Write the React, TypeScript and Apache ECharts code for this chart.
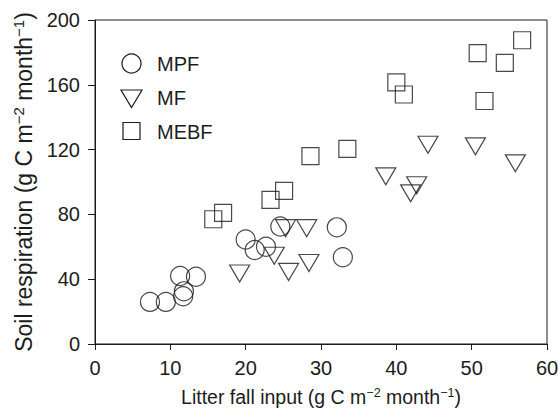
import React, { useEffect, useRef } from "react";
import * as echarts from "echarts";

const seriesNames = ["MPF", "MF", "MEBF"];

const mpfX = [7.3, 9.4, 11.3, 13.4, 11.8, 11.7, 20.0, 21.2, 22.7, 24.6, 32.1, 32.9];
const mpfY = [26, 26, 42, 41.5, 32.5, 29.5, 64.5, 58, 60, 72.5, 72, 53.5];

const mfX = [19.2, 25.7, 28.4, 23.8, 25.3, 28.1, 38.6, 42.7, 41.9, 44.2, 50.5, 55.8];
const mfY = [43.5, 44.5, 50, 54.5, 71.5, 71.5, 103.5, 98, 93, 123, 122, 111.5];

const mebfX = [15.7, 17.0, 23.3, 25.1, 28.6, 33.5, 40.0, 41.0, 51.7, 50.8, 54.4, 56.7];
const mebfY = [77, 81, 89, 94.5, 116, 120.5, 161.5, 154, 150, 179.5, 173.5, 187.5];

const xTicks = [0, 10, 20, 30, 40, 50, 60];
const yTicks = [0, 40, 80, 120, 160, 200];

const FONT = "'Liberation Sans', Arial, Helvetica, sans-serif";
const INK = "#1c1c1c";

const pair = (xs: number[], ys: number[]) => xs.map((x, i) => [x, ys[i]]);

const TRI = "path://M0,0L20,0L10,17Z";

export default function App() {
  const ref = useRef<HTMLDivElement>(null);
  useEffect(() => {
    if (!ref.current) return;
    const chart = echarts.init(ref.current, undefined, { renderer: "svg" });
    const markerStyle = {
      color: "rgba(0,0,0,0)",
      borderColor: INK,
      borderWidth: 1.2,
    };
    const xRich = {
      n: { fontSize: 19.5, fontFamily: FONT, color: INK, lineHeight: 22 },
      s: { fontSize: 12.5, fontFamily: FONT, color: INK, verticalAlign: "top", lineHeight: 11 },
    };
    const yRich = {
      n: { fontSize: 23, fontFamily: FONT, color: INK, lineHeight: 25 },
      s: { fontSize: 15, fontFamily: FONT, color: INK, verticalAlign: "top", lineHeight: 13 },
    };
    chart.setOption({
      animation: false,
      backgroundColor: "#ffffff",
      grid: {
        left: 95,
        right: 12,
        top: 20,
        bottom: 66,
        outerBoundsMode: "none",
        containLabel: false,
        show: true,
        borderColor: INK,
        borderWidth: 1,
        backgroundColor: "transparent",
      },
      xAxis: {
        type: "value",
        min: xTicks[0],
        max: xTicks[xTicks.length - 1],
        interval: 10,
        splitLine: { show: false },
        axisLine: { show: true, lineStyle: { color: INK, width: 1 } },
        axisTick: { show: true, inside: false, length: 6, lineStyle: { color: INK } },
        axisLabel: { fontSize: 20, fontFamily: FONT, color: INK, margin: 14 },
        name: "{n|Litter fall input (g C m}{s|−2}{n| month}{s|−1}{n|)}",
        nameLocation: "middle",
        nameGap: 42,
        nameTextStyle: { rich: xRich },
      },
      yAxis: {
        type: "value",
        min: yTicks[0],
        max: yTicks[yTicks.length - 1],
        interval: 40,
        splitLine: { show: false },
        axisLine: { show: true, lineStyle: { color: INK, width: 1 } },
        axisTick: { show: true, inside: false, length: 7, lineStyle: { color: INK } },
        axisLabel: { fontSize: 20, fontFamily: FONT, color: INK, margin: 15 },
        name: "{n|Soil respiration (g C m}{s|−2}{n| month}{s|−1}{n|)}",
        nameLocation: "middle",
        nameRotate: 90,
        nameGap: 59,
        nameTextStyle: { rich: yRich },
      },
      graphic: [
        { type: "circle", shape: { cx: 131.5, cy: 63.5, r: 9.5 }, style: { fill: "none", stroke: INK, lineWidth: 1.2 } },
        { type: "polygon", shape: { points: [[121, 90], [142, 90], [131.5, 107.5]] }, style: { fill: "none", stroke: INK, lineWidth: 1.2 } },
        { type: "rect", shape: { x: 123, y: 122.5, width: 17, height: 17 }, style: { fill: "none", stroke: INK, lineWidth: 1.2 } },
        { type: "text", x: 157, y: 64, style: { text: seriesNames[0], fontSize: 20, fontFamily: FONT, fill: INK, verticalAlign: "middle" } },
        { type: "text", x: 157, y: 98, style: { text: seriesNames[1], fontSize: 20, fontFamily: FONT, fill: INK, verticalAlign: "middle" } },
        { type: "text", x: 157, y: 131.5, style: { text: seriesNames[2], fontSize: 20, fontFamily: FONT, fill: INK, verticalAlign: "middle" } },
      ],
      series: [
        {
          name: seriesNames[0],
          type: "scatter",
          symbol: "circle",
          symbolSize: 19,
          itemStyle: markerStyle,
          data: pair(mpfX, mpfY),
        },
        {
          name: seriesNames[1],
          type: "scatter",
          symbol: TRI,
          symbolSize: [20, 17],
          itemStyle: markerStyle,
          data: pair(mfX, mfY),
        },
        {
          name: seriesNames[2],
          type: "scatter",
          symbol: "rect",
          symbolSize: 17,
          itemStyle: markerStyle,
          data: pair(mebfX, mebfY),
        },
      ],
    });
    return () => chart.dispose();
  }, []);
  return (
    <div
      ref={ref}
      style={{ position: "fixed", left: 0, top: 0, width: 559, height: 410, background: "#fff" }}
    />
  );
}
